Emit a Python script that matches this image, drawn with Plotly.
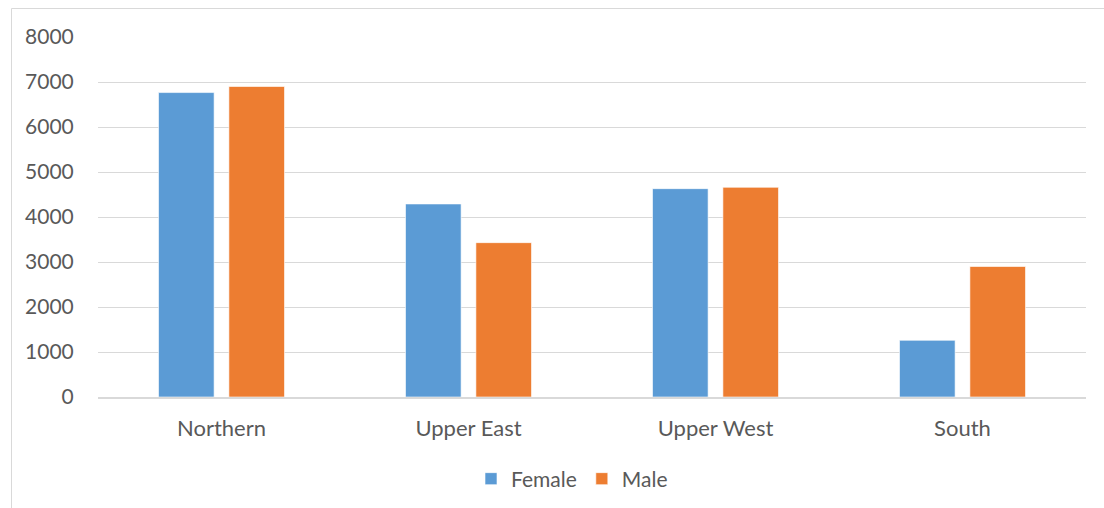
import plotly.graph_objects as go

regions = ["Northern", "Upper East", "Upper West", "South"]
female = [6765, 4290, 4630, 1260]
male = [6900, 3430, 4660, 2900]
series_names = ["Female", "Male"]
colors = ["#5B9BD5", "#ED7D31"]
y_ticks = [0, 1000, 2000, 3000, 4000, 5000, 6000, 7000, 8000]

fig = go.Figure()
for name, vals, col in zip(series_names, [female, male], colors):
    fig.add_trace(go.Bar(
        x=regions, y=vals, name=name,
        marker=dict(color=col, line=dict(color="rgba(255,255,255,0.6)", width=1)),
    ))

W, H = 1104, 508
L, R, T, B = 98, 18, 37, 111
pw, ph = W - L - R, H - T - B

def px_to_paper_x(px):
    return (px - L) / pw

def px_to_paper_y(py):
    return (H - B - py) / ph

fig.update_layout(
    width=W, height=H,
    margin=dict(l=L, r=R, t=T, b=B, pad=0, autoexpand=False),
    paper_bgcolor="white", plot_bgcolor="white",
    font=dict(family="Lato", size=21, color="#595959"),
    barmode="group", bargap=0.43, bargroupgap=0.21,
    showlegend=True,
    legend=dict(orientation="h", x=px_to_paper_x(572), xanchor="center",
                y=px_to_paper_y(479), yanchor="middle",
                font=dict(size=21, color="#595959"),
                itemwidth=30, traceorder="normal"),
    xaxis=dict(showgrid=False, showline=True, linecolor="#D9D9D9", linewidth=1.5,
               ticks="outside", ticklen=11, tickcolor="rgba(0,0,0,0)",
               automargin=False,
               tickfont=dict(size=22, color="#595959")),
    yaxis=dict(range=[0, 8000], tickvals=y_ticks, showgrid=True,
               gridcolor="#D9D9D9", gridwidth=1.3, zeroline=False, showline=False,
               ticks="outside", ticklen=19, tickcolor="rgba(0,0,0,0)",
               automargin=False,
               tickfont=dict(size=21, color="#595959")),
    shapes=[dict(type="rect", xref="paper", yref="paper",
                 x0=px_to_paper_x(11.5), x1=px_to_paper_x(1140),
                 y0=px_to_paper_y(8.5), y1=px_to_paper_y(560),
                 line=dict(color="#D9D9D9", width=1), fillcolor="rgba(0,0,0,0)")],
)

fig.write_html("out.html")
